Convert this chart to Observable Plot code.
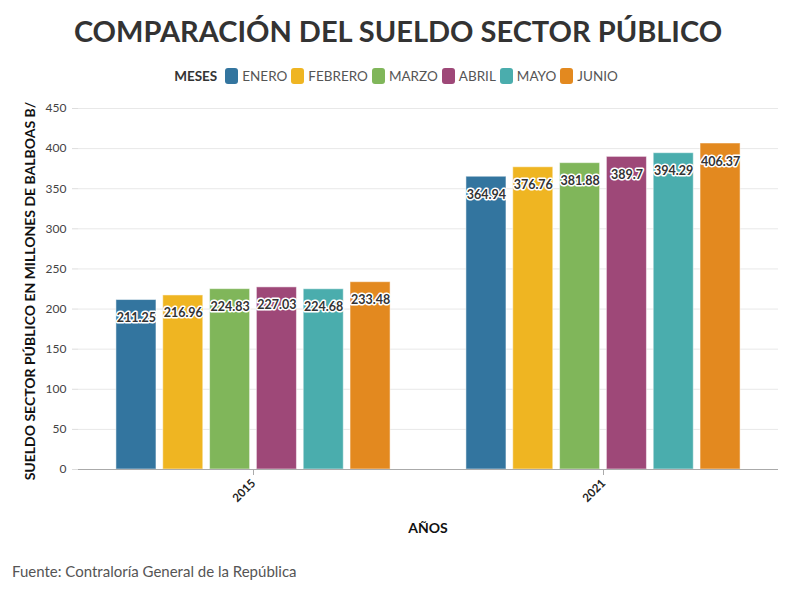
<!DOCTYPE html>
<html>
<head>
<meta charset="utf-8">
<script src="https://cdn.jsdelivr.net/npm/d3@7"></script>
<script src="https://cdn.jsdelivr.net/npm/@observablehq/plot@0.6"></script>
<style>
  body { margin: 0; background: #fff; font-family: Lato, "Open Sans", sans-serif; }
  #wrap { width: 796px; height: 600px; position: relative; }
  #title { position: absolute; top: 13px; left: 0; width: 796px; text-align: center; font-size: 29px; font-weight: 700; color: #333; }
  #legend { position: absolute; top: 68px; left: 0; width: 796px; display: flex; justify-content: center; align-items: center; font-size: 13.5px; color: #555; }
  #legend .t { font-weight: 700; color: #333; margin-right: 8px; }
  #legend .sw { width: 13px; height: 16px; border-radius: 3px; margin-right: 4px; }
  #legend .lb { margin-right: 4px; }
  #chart { position: absolute; top: 95px; left: 0; }
  #ylabel { position: absolute; left: 29px; top: 291px; transform: translate(-50%, -50%) rotate(-90deg); white-space: nowrap; font-size: 14px; font-weight: 700; color: #111; }
  #xlabel { position: absolute; left: 428px; top: 527px; transform: translate(-50%, -50%); font-size: 14px; font-weight: 700; color: #111; }
  #caption { position: absolute; top: 562px; left: 12px; font-size: 15px; color: #555; }
</style>
</head>
<body>
<div id="wrap">
  <div id="title">COMPARACIÓN DEL SUELDO SECTOR PÚBLICO</div>
  <div id="legend"></div>
  <div id="chart"></div>
  <div id="ylabel">SUELDO SECTOR PÚBLICO EN MILLONES DE BALBOAS B/</div>
  <div id="xlabel">AÑOS</div>
  <div id="caption">Fuente: Contraloría General de la República</div>
</div>
<script>
const years = ["2015", "2021"];
const months = ["ENERO", "FEBRERO", "MARZO", "ABRIL", "MAYO", "JUNIO"];
const colors = ["#33759f", "#efb522", "#80b65a", "#9e4878", "#4aadad", "#e3891f"];
const values2015 = [211.25, 216.96, 224.83, 227.03, 224.68, 233.48];
const values2021 = [364.94, 376.76, 381.88, 389.7, 394.29, 406.37];
const yTicks = [0, 50, 100, 150, 200, 250, 300, 350, 400, 450];

const data = [];
months.forEach((m, i) => {
  data.push({year: years[0], month: m, value: values2015[i]});
  data.push({year: years[1], month: m, value: values2021[i]});
});

// legend
const lg = document.getElementById("legend");
const t = document.createElement("span"); t.className = "t"; t.textContent = "MESES"; lg.appendChild(t);
months.forEach((m, i) => {
  const s = document.createElement("span"); s.className = "sw"; s.style.background = colors[i]; lg.appendChild(s);
  const l = document.createElement("span"); l.className = "lb"; l.textContent = m; lg.appendChild(l);
});

const chart = Plot.plot({
  width: 796,
  height: 460,
  marginTop: 13,
  marginBottom: 86,
  marginLeft: 78,
  marginRight: 18,
  style: {fontFamily: "Lato, 'Open Sans', sans-serif", fontSize: "11px"},
  fx: {domain: years, padding: 0, round: false},
  x: {domain: months, paddingInner: 0.145, paddingOuter: 0.81, round: false, axis: null},
  y: {domain: [0, 450], ticks: yTicks},
  color: {domain: months, range: colors},
  marks: [
    Plot.gridY(yTicks, {stroke: "#e8e8e8", strokeOpacity: 1}),
    Plot.axisY(yTicks, {tickSize: 6, tickPadding: 6, stroke: "#ddd", fill: "#444", fontSize: 12, line: true, label: null}),
    Plot.axisFx({anchor: "bottom", tickRotate: -45, tickSize: 6, stroke: "#aaa", fill: "#222", fontWeight: "bold", fontSize: 11.5, label: null}),
    Plot.barY(data, {fx: "year", x: "month", y: "value", fill: "month", stroke: "white", strokeOpacity: 0.5, strokeWidth: 1}),
    Plot.ruleY([0], {stroke: "#aaa"}),
    Plot.text(data, {fx: "year", x: "month", y: "value", text: d => String(d.value), dy: 18,
      fill: "#333", stroke: "white", strokeWidth: 3, fontWeight: "bold", fontSize: 12.5})
  ]
});
document.getElementById("chart").appendChild(chart);
</script>
</body>
</html>
